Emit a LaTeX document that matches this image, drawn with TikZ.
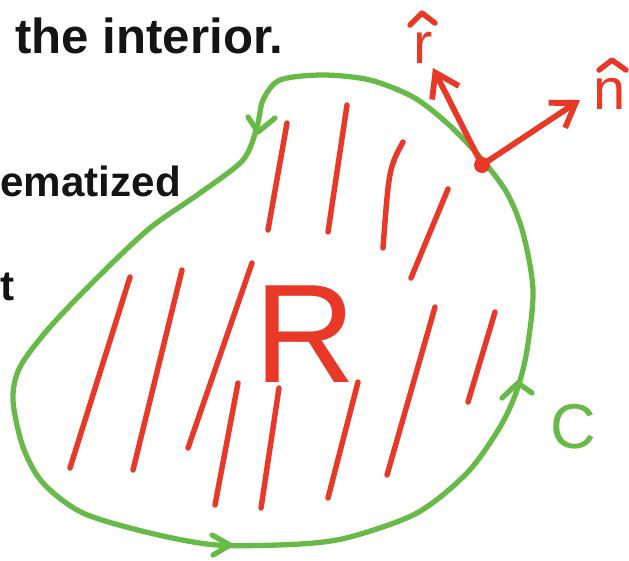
\documentclass[tikz,border=0pt]{standalone}
\usepackage{fontspec}
\setmainfont{Liberation Sans}
\usetikzlibrary{arrows.meta,calc}
\definecolor{inkred}  {RGB}{232, 56, 40}
\definecolor{inkgreen}{RGB}{104,186, 72}
\definecolor{inkblack}{RGB}{ 20, 20, 20}

\begin{document}
\begin{tikzpicture}[
  x=0.2mm, y=-0.2mm,
  handtext/.style={
      font=\fontsize{24}{28}\selectfont\bfseries,
      text=inkblack, inner sep=0pt
  },
  boundary/.style={draw=inkgreen, line width=3pt,
                   line cap=round, line join=round},
  hatch/.style={draw=inkred, line width=3.1pt, line cap=round,
                line join=round},
  vec/.style={hatch, line width=3.3pt,
              -{Straight Barb[length=4.5mm,width=6mm]}},
  veclabel/.style={text=inkred, font=\fontsize{33}{40}\selectfont,
                   inner sep=0pt}
]
\useasboundingbox (0,0) rectangle (629,560);

% =========================================================
% Text fragments on the left
% =========================================================
\node[handtext, font=\fontsize{28}{32}\selectfont\bfseries,
      anchor=base west] (interior) at (15,53)  {the interior.};
\node[handtext, anchor=base west] (ematized) at (0,196)  {ematized};
\node[handtext, anchor=base west] (tfrag)    at (0,300)  {t};

% =========================================================
% Boundary curve C (closed, with three direction chevrons)
% =========================================================
\draw[boundary] plot[smooth cycle] coordinates {
    (323,75) (370,80) (413,97) (447,123) (480,157) (507,193)
    (523,233) (533,290) (527,350) (517,390) (500,427) (467,473)
    (417,513) (350,537) (300,544) (217,545) (150,533) (83,513)
    (43,483) (23,447) (13,400) (20,367) (50,327) (100,275)
    (150,228) (200,193) (243,160) (257,127) (263,100) (280,80)};

\draw[boundary] (248,117) -- (258,132) -- (275,118);   % top, going down
\draw[boundary] (212,535) -- (230,545) -- (213,555);   % bottom, going right
\draw[boundary] (502,398) -- (518,383) -- (532,393);   % right, going up

\node[text=inkgreen, font=\fontsize{36}{40}\selectfont, inner sep=0pt]
      (labelC) at (573,427) {C};

% =========================================================
% Region R: hatching strokes
% =========================================================
\foreach \xa/\ya/\xb/\yb in {
    287/123/268/230, 347/105/328/232, 448/189/411/278,
    435/307/387/475, 495/312/468/402, 358/382/328/498,
    130/277/70/468,  182/270/133/470, 252/263/188/448,
    238/383/215/505, 279/388/261/508}
  \draw[hatch] (\xa,\ya) -- (\xb,\yb);
\draw[hatch] (403,142) .. controls (389,168) .. (383,248);

\node[text=inkred, font=\fontsize{80}{90}\selectfont, inner sep=0pt]
      (regionR) at (305,334) {R};

% =========================================================
% Unit vectors at a boundary point
% =========================================================
\coordinate (pt)   at (482,165);
\coordinate (rtip) at (433,68);
\coordinate (ntip) at (580,100);

\draw[vec] (pt) -- (rtip);
\draw[vec] (pt) -- (ntip);
\fill[inkred] (pt) circle[radius=1.6mm];

\node[veclabel] (rhat) at (423,48) {r};
\node[veclabel] (nhat) at (610,94) {n};

% hats over the two labels
\draw[hatch] ($(rhat.north)+(-13,-7)$) -- ($(rhat.north)+(-1,-19)$)
             -- ($(rhat.north)+(12,-9)$);
\draw[hatch] ($(nhat.north)+(-11,-8)$) -- ($(nhat.north)+(2,-18)$)
             -- ($(nhat.north)+(16,-8)$);

\end{tikzpicture}
\end{document}
